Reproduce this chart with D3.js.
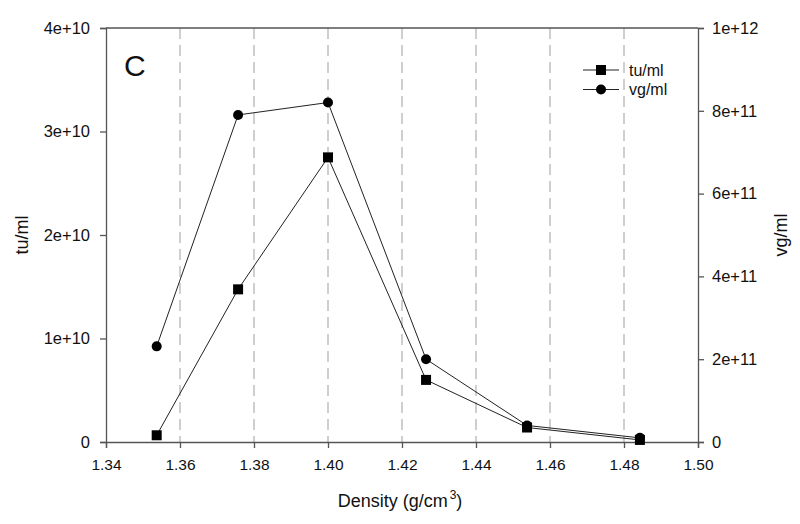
<!DOCTYPE html>
<html><head><meta charset="utf-8">
<script src="https://cdn.jsdelivr.net/npm/d3@7"></script>
<style>body{margin:0;background:#fff;} text{font-family:Arial,"Liberation Sans",sans-serif;fill:#111;}</style>
</head><body><svg id="c" width="800" height="524"></svg>
<script>
const density = [1.3537, 1.3757, 1.400, 1.4265, 1.4538, 1.4843];
const tuml = [6.5e8, 1.475e10, 2.75e10, 6.0e9, 1.4e9, 2e8];
const vgml = [2.31e11, 7.9e11, 8.2e11, 2.0e11, 4.0e10, 1.0e10];
const xTicks = [1.34,1.36,1.38,1.40,1.42,1.44,1.46,1.48,1.50];
const gridTicks = [1.36,1.38,1.40,1.42,1.44,1.46,1.48];
const leftTicks = [0,1e10,2e10,3e10,4e10];
const leftLabels = ["0","1e+10","2e+10","3e+10","4e+10"];
const rightTicks = [0,2e11,4e11,6e11,8e11,1e12];
const rightLabels = ["0","2e+11","4e+11","6e+11","8e+11","1e+12"];

const svg = d3.select("#c");
const L=106, R=698, T=28, B=442;
const x = d3.scaleLinear().domain([1.34,1.50]).range([L,R]);
const yL = d3.scaleLinear().domain([0,4e10]).range([B,T]);
const yR = d3.scaleLinear().domain([0,1e12]).range([B,T]);
const axisColor = "#555";

// grid
svg.append("g").selectAll("line").data(gridTicks).join("line")
  .attr("x1",d=>x(d)).attr("x2",d=>x(d)).attr("y1",T).attr("y2",B)
  .attr("stroke","#b0b0b0").attr("stroke-width",1.2).attr("stroke-dasharray","11,6");

// frame top
svg.append("line").attr("x1",L).attr("x2",R).attr("y1",T).attr("y2",T).attr("stroke",axisColor).attr("stroke-width",1.3);

const fmtL = d=>leftLabels[leftTicks.indexOf(d)];
const fmtR = d=>rightLabels[rightTicks.indexOf(d)];
const gB = svg.append("g").attr("transform",`translate(0,${B})`)
  .call(d3.axisBottom(x).tickValues(xTicks).tickFormat(d3.format(".2f")).tickSizeOuter(0).tickSize(6).tickPadding(11));
const gL = svg.append("g").attr("transform",`translate(${L},0)`)
  .call(d3.axisLeft(yL).tickValues(leftTicks).tickFormat(fmtL).tickSizeOuter(0).tickSize(6).tickPadding(10));
const gR = svg.append("g").attr("transform",`translate(${R},0)`)
  .call(d3.axisRight(yR).tickValues(rightTicks).tickFormat(fmtR).tickSizeOuter(0).tickSize(6).tickPadding(8));
[gB,gL,gR].forEach(g=>{
  g.attr("font-family","Arial, 'Liberation Sans', sans-serif");
  g.selectAll("path,line").attr("stroke",axisColor).attr("stroke-width",1.3);
  g.selectAll("text").attr("fill","#111");
});
gB.selectAll("text").style("font-size","15.5px").attr("dy",null).attr("y",470-B);
gL.selectAll("text").style("font-size","16.5px");
gR.selectAll("text").style("font-size","16.5px");

// lines
const lineTu = d3.line().x((d,i)=>x(density[i])).y(d=>yL(d));
const lineVg = d3.line().x((d,i)=>x(density[i])).y(d=>yR(d));
svg.append("path").attr("d",lineTu(tuml)).attr("fill","none").attr("stroke","#222").attr("stroke-width",1);
svg.append("path").attr("d",lineVg(vgml)).attr("fill","none").attr("stroke","#222").attr("stroke-width",1);
svg.append("g").selectAll("rect").data(tuml).join("rect")
  .attr("x",(d,i)=>x(density[i])-5).attr("y",d=>yL(d)-5).attr("width",10).attr("height",10).attr("fill","#000");
svg.append("g").selectAll("circle").data(vgml).join("circle")
  .attr("cx",(d,i)=>x(density[i])).attr("cy",d=>yR(d)).attr("r",5).attr("fill","#000");

// legend
const lg = svg.append("g");
lg.append("line").attr("x1",583).attr("x2",619).attr("y1",70).attr("y2",70).attr("stroke","#222");
lg.append("rect").attr("x",596).attr("y",65).attr("width",10).attr("height",10).attr("fill","#000");
lg.append("text").attr("x",629).attr("y",75.5).style("font-size","16px").text("tu/ml");
lg.append("line").attr("x1",583).attr("x2",619).attr("y1",89.5).attr("y2",89.5).attr("stroke","#222");
lg.append("circle").attr("cx",601).attr("cy",89.5).attr("r",5).attr("fill","#000");
lg.append("text").attr("x",629).attr("y",95).style("font-size","16px").text("vg/ml");

// panel label
svg.append("text").attr("x",124).attr("y",76).style("font-size","30px").text("C");

// axis titles
svg.append("text").attr("transform","translate(28,235) rotate(-90)").attr("text-anchor","middle").style("font-size","18px").text("tu/ml");
svg.append("text").attr("transform","translate(787,235) rotate(-90)").attr("text-anchor","middle").style("font-size","18px").text("vg/ml");
const xt = svg.append("text").attr("x",400).attr("y",507).attr("text-anchor","middle").style("font-size","18px");
xt.append("tspan").text("Density (g/cm");
xt.append("tspan").style("font-size","12px").attr("dy",-8).attr("dx",2).text("3");
xt.append("tspan").attr("dy",8).text(")");
</script></body></html>
